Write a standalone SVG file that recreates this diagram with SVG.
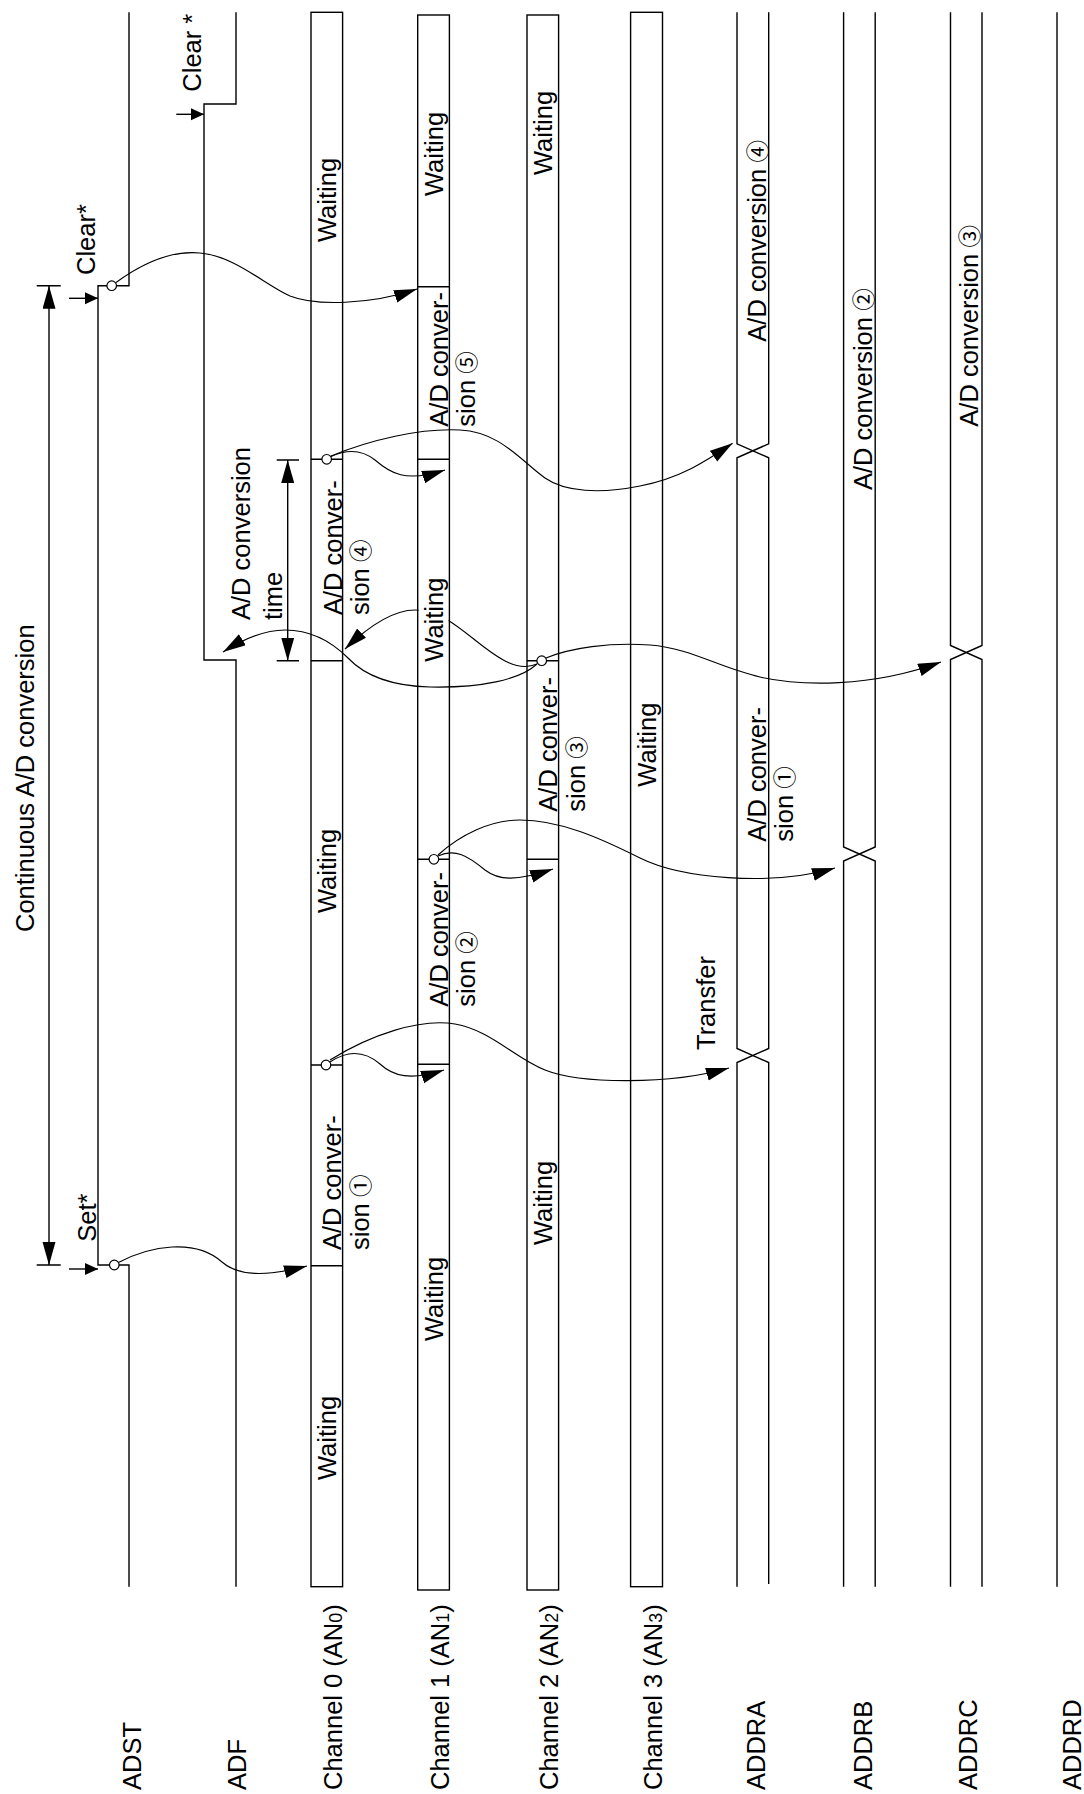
<svg xmlns="http://www.w3.org/2000/svg" width="1084" height="1794" viewBox="0 0 1084 1794">
<defs>
<style>
.ln{fill:none;stroke:#000;stroke-width:1.4}
.lane{fill:#fff;stroke:#000;stroke-width:1.4}
.cv{fill:none;stroke:#000;stroke-width:1.1}
.dot{fill:#fff;stroke:#000;stroke-width:1.2}
.t{font-family:"Liberation Sans",Arial,"Noto Sans CJK JP",sans-serif;font-size:25.5px;fill:#000}
.sub{font-size:18px}
.cd{font-size:22.5px}
</style>
<marker id="ah" markerUnits="userSpaceOnUse" viewBox="0 0 24 14" markerWidth="24" markerHeight="14" refX="23" refY="6.5" orient="auto-start-reverse"><path d="M0,0L23,6.5L0,13Z" fill="#000"/></marker>
<marker id="ahs" markerUnits="userSpaceOnUse" viewBox="0 0 14 13" markerWidth="14" markerHeight="13" refX="13" refY="6" orient="auto"><path d="M0,0L13,6L0,12Z" fill="#000"/></marker>
<clipPath id="cw"><path clip-rule="evenodd" d="M0,0H1084V1794H0Z M418.5,588H448.6V634H418.5Z"/></clipPath>
</defs>
<rect width="1084" height="1794" fill="#fff"/>

<g id="continuous">
<path class="ln" d="M36.7,285.7H60.7M36.7,1265H60.7"/>
<path class="ln" d="M49,285.7V1265" marker-start="url(#ah)" marker-end="url(#ah)"/>
<text class="t" transform="translate(34.4,932) rotate(-90)">Continuous A/D conversion</text>
</g>

<g id="adst">
<path class="ln" d="M129,12.3V285.7H98V1265H129V1586.7"/>
<path class="ln" d="M69,298.3H98" marker-end="url(#ahs)"/>
<path class="ln" d="M69,1269H98" marker-end="url(#ahs)"/>
<text class="t" transform="translate(95,275) rotate(-90)">Clear*</text>
<text class="t" transform="translate(96,1241.7) rotate(-90)">Set*</text>
<text class="t" transform="translate(141,1790) rotate(-90)">ADST</text>
</g>

<g id="adf">
<path class="ln" d="M236,12.3V104H204V660H236V1586.7"/>
<path class="ln" d="M176.3,114.3H204" marker-end="url(#ahs)"/>
<text class="t" transform="translate(201.4,91.7) rotate(-90)">Clear *</text>
<text class="t" transform="translate(246,1790) rotate(-90)">ADF</text>
</g>

<g id="convtime">
<path class="ln" d="M276.7,460H299M276.7,660.7H299"/>
<path class="ln" d="M287.7,460V660.7" marker-start="url(#ah)" marker-end="url(#ah)"/>
<text class="t" transform="translate(250,620) rotate(-90)">A/D conversion</text>
<text class="t" transform="translate(281.7,620) rotate(-90)">time</text>
</g>

<g id="ch0">
<rect class="lane" x="311" y="12.3" width="31.6" height="1574.4"/>
<path class="ln" d="M311,1265.7H342.6M311,1065H342.6M311,660.7H342.6M311,459.3H342.6"/>
<text class="t" transform="translate(336,242) rotate(-90)">Waiting</text>
<text class="t" transform="translate(341.5,615) rotate(-90)"><tspan x="0" y="0">A/D conver-</tspan><tspan x="0" y="27.5">sion<tspan class="cd"> ④</tspan></tspan></text>
<text class="t" transform="translate(336,913) rotate(-90)">Waiting</text>
<text class="t" transform="translate(341,1250) rotate(-90)"><tspan x="0" y="0">A/D conver-</tspan><tspan x="0" y="27.5">sion<tspan class="cd"> ①</tspan></tspan></text>
<text class="t" transform="translate(336,1480) rotate(-90)">Waiting</text>
<text class="t" transform="translate(342,1790) rotate(-90)">Channel 0 (AN<tspan class="sub">0</tspan>)</text>
</g>

<g id="ch1">
<rect class="lane" x="417.7" y="15" width="31.7" height="1575"/>
<path class="ln" d="M417.7,1064.3H449.4M417.7,859.3H449.4M417.7,459.3H449.4M417.7,286.7H449.4"/>
<text class="t" transform="translate(442.5,196) rotate(-90)">Waiting</text>
<text class="t" transform="translate(447.5,426.7) rotate(-90)"><tspan x="0" y="0">A/D conver-</tspan><tspan x="0" y="27.5">sion<tspan class="cd"> ⑤</tspan></tspan></text>
<text class="t" transform="translate(442.5,661.7) rotate(-90)">Waiting</text>
<text class="t" transform="translate(447.5,1006.7) rotate(-90)"><tspan x="0" y="0">A/D conver-</tspan><tspan x="0" y="27.5">sion<tspan class="cd"> ②</tspan></tspan></text>
<text class="t" transform="translate(442.5,1341) rotate(-90)">Waiting</text>
<text class="t" transform="translate(449,1790) rotate(-90)">Channel 1 (AN<tspan class="sub">1</tspan>)</text>
</g>

<g id="ch2">
<rect class="lane" x="527" y="15" width="31.6" height="1575"/>
<path class="ln" d="M527,859.3H558.6M527,660.7H558.6"/>
<text class="t" transform="translate(552,175) rotate(-90)">Waiting</text>
<text class="t" transform="translate(557,811.7) rotate(-90)"><tspan x="0" y="0">A/D conver-</tspan><tspan x="0" y="27.5">sion<tspan class="cd"> ③</tspan></tspan></text>
<text class="t" transform="translate(552,1245) rotate(-90)">Waiting</text>
<text class="t" transform="translate(558,1790) rotate(-90)">Channel 2 (AN<tspan class="sub">2</tspan>)</text>
</g>

<g id="ch3">
<rect class="lane" x="630.6" y="12.3" width="31.9" height="1574.4"/>
<text class="t" transform="translate(655.5,786.7) rotate(-90)">Waiting</text>
<text class="t" transform="translate(662,1790) rotate(-90)">Channel 3 (AN<tspan class="sub">3</tspan>)</text>
</g>

<g id="addra">
<path class="ln" d="M737,12.3V443.8L768.7,457.8V1048.5L737,1062.5V1586.7M768.7,12.3V443.8L737,457.8V1048.5L768.7,1062.5V1584"/>
<text class="t" transform="translate(765.5,341.7) rotate(-90)">A/D conversion<tspan class="cd"> ④</tspan></text>
<text class="t" transform="translate(765.5,841.7) rotate(-90)"><tspan x="0" y="0">A/D conver-</tspan><tspan x="0" y="27.5">sion<tspan class="cd"> ①</tspan></tspan></text>
<text class="t" transform="translate(715,1050) rotate(-90)">Transfer</text>
<text class="t" transform="translate(765,1790) rotate(-90)">ADDRA</text>
</g>

<g id="addrb">
<path class="ln" d="M843.6,12.3V847L875.2,861V1586.7M875.2,12.3V847L843.6,861V1586.7"/>
<text class="t" transform="translate(871.5,490) rotate(-90)">A/D conversion<tspan class="cd"> ②</tspan></text>
<text class="t" transform="translate(872,1790) rotate(-90)">ADDRB</text>
</g>

<g id="addrc">
<path class="ln" d="M950.5,12.3V645.5L982,659.5V1586.7M982,12.3V645.5L950.5,659.5V1586.7"/>
<text class="t" transform="translate(977.5,426.7) rotate(-90)">A/D conversion<tspan class="cd"> ③</tspan></text>
<text class="t" transform="translate(977,1790) rotate(-90)">ADDRC</text>
</g>

<g id="addrd">
<path class="ln" d="M1057,12.3V1586.7"/>
<text class="t" transform="translate(1081,1790) rotate(-90)">ADDRD</text>
</g>

<g id="connectors">
<path class="cv" d="M118.5,1262.5C150,1246 195,1238 222,1262C238,1276 265,1277 307,1266" marker-end="url(#ah)"/>
<path class="cv" d="M116,282.5C140,265 170,250 200,253C235,256 265,285 290,296C315,306 370,305 417,289" marker-end="url(#ah)"/>
<path class="cv" d="M330,1062C348,1050 365,1051 380,1064C393,1076 410,1081 444,1070" marker-end="url(#ah)"/>
<path class="cv" d="M330,1060C370,1035 420,1018 455,1024C490,1030 515,1058 545,1070C580,1084 670,1085 729,1068" marker-end="url(#ah)"/>
<path class="cv" d="M438,856C455,848 468,856 485,870C498,880 515,882 553,869" marker-end="url(#ah)"/>
<path class="cv" d="M438,855C460,835 490,820 520,820C560,820 600,838 640,858C680,878 770,887 835,868" marker-end="url(#ah)"/>
<path class="cv" d="M537,664C520,680 480,688 430,687C390,686 365,676 348,658C330,640 310,630 285,630C265,630 245,638 223,652" marker-end="url(#ah)"/>
<path class="cv" clip-path="url(#cw)" d="M537,664C518,672 500,660 475,640C455,624 438,610 415,610C393,610 370,625 345,649" marker-end="url(#ah)"/>
<path class="cv" d="M546,658C570,648 610,642 650,645C690,648 720,668 760,677C800,686 870,688 941,662" marker-end="url(#ah)"/>
<path class="cv" d="M331,456.5C345,450 360,448 375,460C390,473 405,483 445,470" marker-end="url(#ah)"/>
<path class="cv" d="M331,456C370,440 420,428 460,430C500,432 520,460 545,478C565,492 600,494 640,486C680,478 705,462 732.6,443.3" marker-end="url(#ah)"/>
<circle class="dot" cx="114.3" cy="1265" r="4.8"/>
<circle class="dot" cx="111.7" cy="285.7" r="4.8"/>
<circle class="dot" cx="326" cy="1065" r="4.8"/>
<circle class="dot" cx="326.7" cy="459.3" r="4.8"/>
<circle class="dot" cx="433.9" cy="859.3" r="4.8"/>
<circle class="dot" cx="541.7" cy="660.7" r="4.8"/>
</g>
</svg>
